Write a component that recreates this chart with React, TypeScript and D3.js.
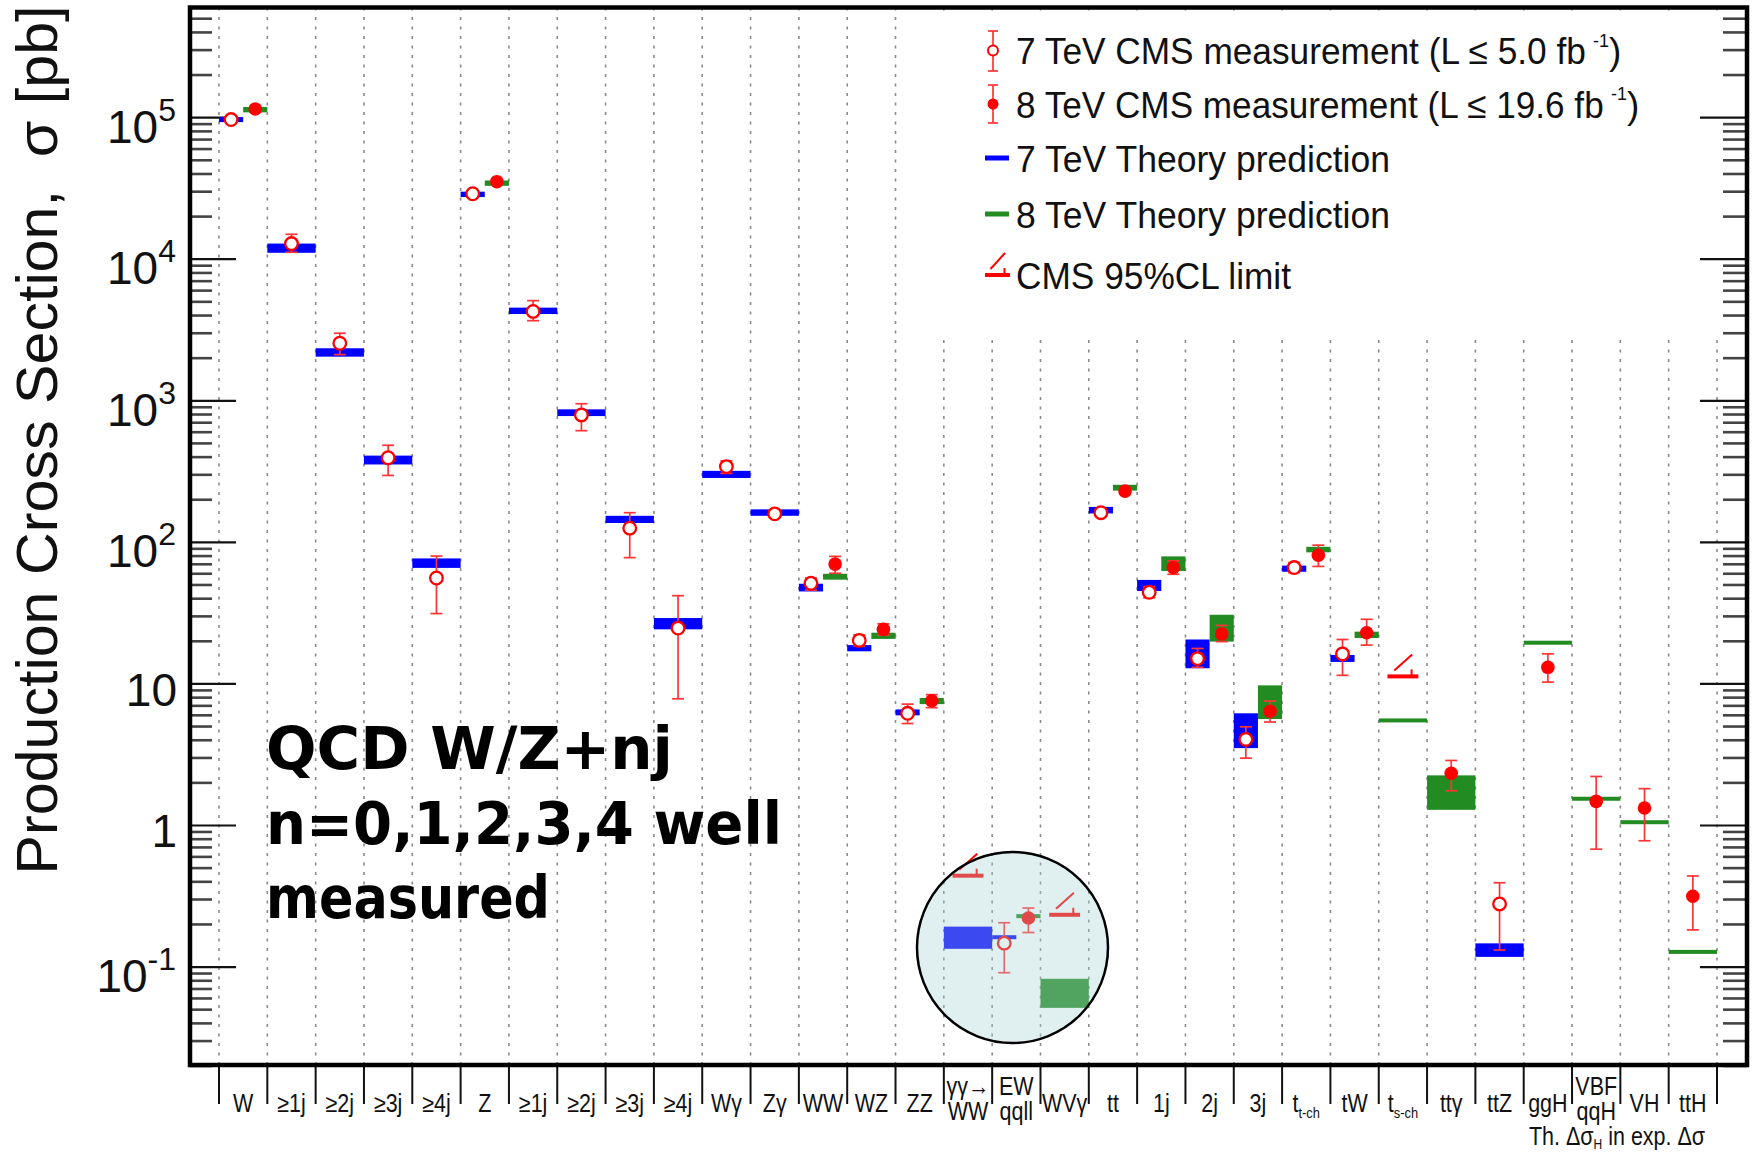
import * as d3 from "d3";

// ===== Data (pb) =====
const N = null;

const categories = [
  "W", "≥1j", "≥2j", "≥3j", "≥4j",
  "Z", "≥1j", "≥2j", "≥3j", "≥4j",
  "Wγ", "Zγ", "WW", "WZ", "ZZ",
  "γγ→|WW", "EW|qqll", "WVγ",
  "tt", "1j", "2j", "3j", "t_t-ch", "tW", "t_s-ch", "ttγ", "ttZ",
  "ggH", "VBF|qqH", "VH", "ttH",
];

// 7 TeV theory band
const th7Lo = [9.3e4, 1.11e4, 2.05e3, 355, 66, 2.75e4, 4.1e3, 780, 137, 24.3, 285, 154, 45, 17, 6.0, 0.1345, 0.159, N, 160, 45.3, 12.9, 3.52, 62, 14.3, N, N, 0.118, N, N, N, N];
const th7Hi = [1.01e5, 1.29e4, 2.35e3, 410, 77, 3.0e4, 4.55e3, 870, 154, 29.2, 320, 171, 51, 18.8, 6.6, 0.193, 0.166, N, 178, 54.3, 20.6, 6.2, 68.5, 16, N, N, 0.147, N, N, N, N];

// 8 TeV theory band
const th8Lo = [1.09e5, N, N, N, N, 3.3e4, N, N, N, N, N, N, 54.5, 20.8, 7.2, N, 0.222, 0.0515, 232, 62.8, 19.9, 5.65, 85, 21.1, 5.35, 1.29, N, 19.1, 1.51, 1.03, 0.125];
const th8Hi = [1.19e5, N, N, N, N, 3.6e4, N, N, N, N, N, N, 60, 23, 7.95, N, 0.236, 0.0826, 255, 79.6, 30.8, 9.77, 93, 23.4, 5.7, 2.26, N, 20, 1.58, 1.08, 0.131];

// 7 TeV measurement
const meas7 = [9.7e4, 1.29e4, 2.55e3, 396, 56, 2.9e4, 4.28e3, 794, 126, 24.8, 343, 159, 51.4, 20.3, 6.2, N, 0.1475, N, 162, 44.4, 15.1, 4.06, 66.4, 16.3, N, N, 0.279, N, N, N, N];
const meas7Lo = [9.3e4, 1.12e4, 2.12e3, 297, 31.4, 2.8e4, 3.68e3, 615, 78, 7.85, 307, 150, 46, 18.5, 5.25, N, 0.0912, N, 155, 40.6, 13.1, 2.99, 61, 11.5, N, N, 0.132, N, N, N, N];
const meas7Hi = [1.01e5, 1.5e4, 3.0e3, 485, 80, 3.0e4, 5.1e3, 953, 162, 42, 376, 169, 56, 22.2, 7.2, N, 0.2056, N, 170, 48.6, 17.8, 4.98, 72, 20.6, N, N, 0.394, N, N, N, N];

// 8 TeV measurement
const meas8 = [1.15e5, N, N, N, N, 3.53e4, N, N, N, N, N, N, 70.2, 24.3, 7.6, N, 0.222, N, 230, 66.4, 22.5, 6.41, 81, 23, N, 2.34, N, 13.1, 1.48, 1.33, 0.316];
const meas8Lo = [1.1e5, N, N, N, N, 3.4e4, N, N, N, N, N, N, 60.5, 22.2, 6.8, N, 0.1754, N, 220, 59.5, 19.9, 5.38, 67.6, 18.8, N, 1.76, N, 10.3, 0.68, 0.78, 0.183];
const meas8Hi = [1.2e5, N, N, N, N, 3.65e4, N, N, N, N, N, N, 79.6, 26.6, 8.4, N, 0.261, N, 242, 74, 25.9, 7.57, 95.5, 28.6, N, 2.88, N, 16.3, 2.22, 1.82, 0.44];

// CMS 95% CL limits
const limits = [N, N, N, N, N, N, N, N, N, N, N, N, N, N, N, 0.442, N, 0.234, N, N, N, N, N, N, 11.3, N, N, N, N, N, N];

const majorExps = [-1, 0, 1, 2, 3, 4, 5];

// legend: text, superscript, target width and horizontal squeeze
const legendItems = [
  { text: "7 TeV CMS measurement (L ≤ 5.0 fb", sup: "-1", len: 576, sx: 0.953 },
  { text: "8 TeV CMS measurement (L ≤ 19.6 fb", sup: "-1", len: 594, sx: 0.95 },
  { text: "7 TeV Theory prediction", sup: "", len: 374, sx: 0 },
  { text: "8 TeV Theory prediction", sup: "", len: 374, sx: 0 },
  { text: "CMS 95%CL limit", sup: "", len: 275, sx: 0 },
];

const noteLines = ["QCD W/Z+nj", "n=0,1,2,3,4 well", "measured"];

const BLUE = "#0000ff";
const GREEN = "#228b22";
const RED = "#ff0000";
const ERR = "#ff3535";
const FONT = "'Liberation Sans', Arial, Helvetica, sans-serif";

export default function App() {
  const width = 1760;
  const height = 1153;
  const left = 190, right = 1747, top = 7.5, bottom = 1065;

  const n = categories.length;
  const x = d3.scaleBand<number>().domain(d3.range(n)).range([219, 1717]).paddingInner(0).paddingOuter(0);
  const bw = x.bandwidth();
  const y = d3.scaleLog().domain([0.02, 6e5]).range([1066, 7.5]);

  const bounds = d3.range(n + 1).map((i) => (i < n ? (x(i) as number) : x.range()[1]));

  const minors: number[] = [];
  for (let e = -2; e <= 5; e++) {
    for (let m = 2; m <= 9; m++) {
      const v = m * Math.pow(10, e);
      if (v >= 0.02 && v <= 6e5) minors.push(v);
    }
  }

  const band = (lo: number, hi: number, x0: number, w: number, color: string, key: string) => {
    let y0 = y(hi), y1 = y(lo);
    if (y1 - y0 < 4) {
      const c = (y0 + y1) / 2;
      y0 = c - 2;
      y1 = c + 2;
    }
    return <rect key={key} x={x0} y={y0} width={w} height={y1 - y0} fill={color} />;
  };

  const meas = (cx: number, v: number, lo: number, hi: number, filled: boolean, key: string) => (
    <g key={key}>
      <line x1={cx} x2={cx} y1={y(hi)} y2={y(lo)} stroke={ERR} strokeWidth={1.7} />
      <line x1={cx - 6} x2={cx + 6} y1={y(hi)} y2={y(hi)} stroke={ERR} strokeWidth={1.7} />
      <line x1={cx - 6} x2={cx + 6} y1={y(lo)} y2={y(lo)} stroke={ERR} strokeWidth={1.7} />
      {filled ? (
        <circle cx={cx} cy={y(v)} r={6.8} fill={RED} />
      ) : (
        <circle cx={cx} cy={y(v)} r={6.3} fill="white" stroke={RED} strokeWidth={2.3} />
      )}
    </g>
  );

  const limitMark = (x0: number, w: number, yy: number, key: string) => (
    <g key={key} stroke={RED}>
      <line x1={x0} x2={x0 + w} y1={yy} y2={yy} strokeWidth={4} />
      <line x1={x0 + w * 0.22} x2={x0 + w * 0.8} y1={yy - 6} y2={yy - 22} strokeWidth={2} />
      <line x1={x0 + w * 0.78} x2={x0 + w * 0.78} y1={yy - 7} y2={yy} strokeWidth={2} />
    </g>
  );

  const bands: JSX.Element[] = [];
  const points: JSX.Element[] = [];
  categories.forEach((_, i) => {
    const x0 = x(i) as number;
    const has7 = th7Lo[i] != null || meas7[i] != null;
    const has8 = th8Lo[i] != null || meas8[i] != null;
    const split = has7 && has8;
    const w = split ? bw / 2 : bw;
    const x7 = x0;
    const x8 = split ? x0 + bw / 2 : x0;
    if (th7Lo[i] != null) bands.push(band(th7Lo[i]!, th7Hi[i]!, x7, w, BLUE, `b7-${i}`));
    if (th8Lo[i] != null) bands.push(band(th8Lo[i]!, th8Hi[i]!, x8, w, GREEN, `b8-${i}`));
    if (limits[i] != null) points.push(limitMark(x0 + bw * 0.18, bw * 0.64, y(limits[i]!), `l-${i}`));
    if (meas7[i] != null) points.push(meas(x7 + w / 2, meas7[i]!, meas7Lo[i]!, meas7Hi[i]!, false, `m7-${i}`));
    if (meas8[i] != null) points.push(meas(x8 + w / 2, meas8[i]!, meas8Lo[i]!, meas8Hi[i]!, true, `m8-${i}`));
  });

  const catLabel = (label: string, i: number) => {
    const cx = (x(i) as number) + bw / 2;
    const lines = label.split("|");
    const base = lines.length === 1 ? [1112] : [1095, 1120];
    return lines.map((ln, j) => {
      const [main, sub] = ln.split("_");
      return (
        <g key={`c-${i}-${j}`} transform={`translate(${cx},${base[j]}) scale(0.86,1)`}>
          <text textAnchor="middle" fontSize={25} fontFamily={FONT} fill="#111">
            {main}
            {sub ? (
              <tspan fontSize={15} dy={6}>
                {sub}
              </tspan>
            ) : null}
          </text>
        </g>
      );
    });
  };

  const legendY = [50.5, 104, 158, 214, 275];
  const mx = 993;

  return (
    <div style={{ position: "absolute", left: 0, top: 0, background: "white" }}>
      <svg width={width} height={height} viewBox={`0 0 ${width} ${height}`} style={{ display: "block" }}>
        <rect x={0} y={0} width={width} height={height} fill="white" />

        {/* grid */}
        {bounds.map((bx, i) => (
          <line
            key={`g-${i}`}
            x1={bx}
            x2={bx}
            y1={top}
            y2={bottom}
            stroke="#8a8a8a"
            strokeWidth={1.6}
            strokeDasharray="3,6.5"
          />
        ))}

        {/* legend background */}
        <rect x={920} y={12} width={800} height={323} fill="white" />

        {/* y ticks, left and right */}
        {minors.map((v) => (
          <g key={`mi-${v}`} stroke="#444" strokeWidth={2.6}>
            <line x1={left} x2={left + 22} y1={y(v)} y2={y(v)} />
            <line x1={right - 24} x2={right} y1={y(v)} y2={y(v)} />
          </g>
        ))}
        {majorExps.map((e) => (
          <g key={`ma-${e}`} stroke="#111" strokeWidth={2.2}>
            <line x1={left} x2={left + 46} y1={y(Math.pow(10, e))} y2={y(Math.pow(10, e))} />
            <line x1={right - 47} x2={right} y1={y(Math.pow(10, e))} y2={y(Math.pow(10, e))} />
          </g>
        ))}

        {/* y tick labels */}
        {majorExps.map((e) => {
          const yy = y(Math.pow(10, e));
          if (e === 0 || e === 1) {
            return (
              <text key={`tl-${e}`} x={177} y={yy + 22} textAnchor="end" fontSize={46} fontFamily={FONT} fill="#111">
                {e === 0 ? "1" : "10"}
              </text>
            );
          }
          return (
            <text key={`tl-${e}`} x={176} y={yy + 25} textAnchor="end" fontSize={46} fontFamily={FONT} fill="#111">
              10
              <tspan fontSize={32} dy={-22}>
                {e < 0 ? `-${-e}` : `${e}`}
              </tspan>
            </text>
          );
        })}

        {/* x ticks */}
        {bounds.map((bx, i) => (
          <line key={`xt-${i}`} x1={bx} x2={bx} y1={bottom} y2={1104} stroke="#111" strokeWidth={2} />
        ))}

        {/* frame */}
        <rect x={left} y={top} width={right - left} height={bottom - top} fill="none" stroke="#000" strokeWidth={4.5} />

        {/* data */}
        {bands}
        {points}

        {/* inset circle highlight */}
        <circle cx={1012.5} cy={947.5} r={95.5} fill="rgb(165,212,212)" fillOpacity={0.35} stroke="#000" strokeWidth={2.5} />

        {/* legend */}
        <g>
          <line x1={mx} x2={mx} y1={31} y2={71} stroke={ERR} strokeWidth={1.7} />
          <line x1={mx - 5} x2={mx + 5} y1={31} y2={31} stroke={ERR} strokeWidth={1.7} />
          <line x1={mx - 5} x2={mx + 5} y1={71} y2={71} stroke={ERR} strokeWidth={1.7} />
          <circle cx={mx} cy={legendY[0]} r={5} fill="white" stroke={RED} strokeWidth={2} />

          <line x1={mx} x2={mx} y1={85} y2={123} stroke={ERR} strokeWidth={1.7} />
          <line x1={mx - 5} x2={mx + 5} y1={85} y2={85} stroke={ERR} strokeWidth={1.7} />
          <line x1={mx - 5} x2={mx + 5} y1={123} y2={123} stroke={ERR} strokeWidth={1.7} />
          <circle cx={mx} cy={legendY[1]} r={5.5} fill={RED} />

          <rect x={985} y={legendY[2] - 2.5} width={24} height={5} fill={BLUE} />
          <rect x={985} y={legendY[3] - 2.5} width={24} height={5} fill={GREEN} />
          {limitMark(985, 25, legendY[4], "leg-lim")}

          {legendItems.map((it, i) =>
            it.sup ? (
              <g key={`lt-${i}`}>
                <g transform={`translate(1016,${legendY[i] + 13.5}) scale(${it.sx},1)`}>
                  <text x={0} y={0} fontSize={37} fontFamily={FONT} fill="#111">
                    {it.text}
                  </text>
                </g>
                <text x={1016 + it.len + 1} y={legendY[i] - 4} fontSize={18} fontFamily={FONT} fill="#111">
                  {it.sup}
                </text>
                <text x={1016 + it.len + 17} y={legendY[i] + 13.5} fontSize={37} fontFamily={FONT} fill="#111">
                  )
                </text>
              </g>
            ) : (
              <text
                key={`lt-${i}`}
                x={1016}
                y={legendY[i] + 13.5}
                fontSize={37}
                fontFamily={FONT}
                fill="#111"
                textLength={it.len}
                lengthAdjust="spacingAndGlyphs"
              >
                {it.text}
              </text>
            )
          )}
        </g>

        {/* category labels */}
        {categories.map((c, i) => catLabel(c, i))}
        <g transform="translate(1617,1145) scale(0.86,1)">
          <text textAnchor="middle" fontSize={25} fontFamily={FONT} fill="#111">
            Th. Δσ
            <tspan fontSize={14} dy={4}>
              H
            </tspan>
            <tspan dy={-4}> in exp. Δσ</tspan>
          </text>
        </g>

        {/* y axis title */}
        <text
          transform="translate(57,440) rotate(-90)"
          textAnchor="middle"
          fontSize={58}
          fontFamily={FONT}
          fill="#111"
          textLength={869}
          lengthAdjust="spacingAndGlyphs"
          style={{ whiteSpace: "pre" }}
        >
          {"Production Cross Section,  σ [pb]"}
        </text>

        {/* annotation */}
        {noteLines.map((t, i) => (
          <text
            key={`nt-${i}`}
            x={266}
            y={[769, 844, 918][i]}
            fontSize={58}
            fontWeight="bold"
            fontFamily="'Comic Sans MS', 'DejaVu Sans', sans-serif"
            fill="#000"
            textLength={[407, 516, 284][i]}
            lengthAdjust="spacingAndGlyphs"
          >
            {t}
          </text>
        ))}
      </svg>
    </div>
  );
}
